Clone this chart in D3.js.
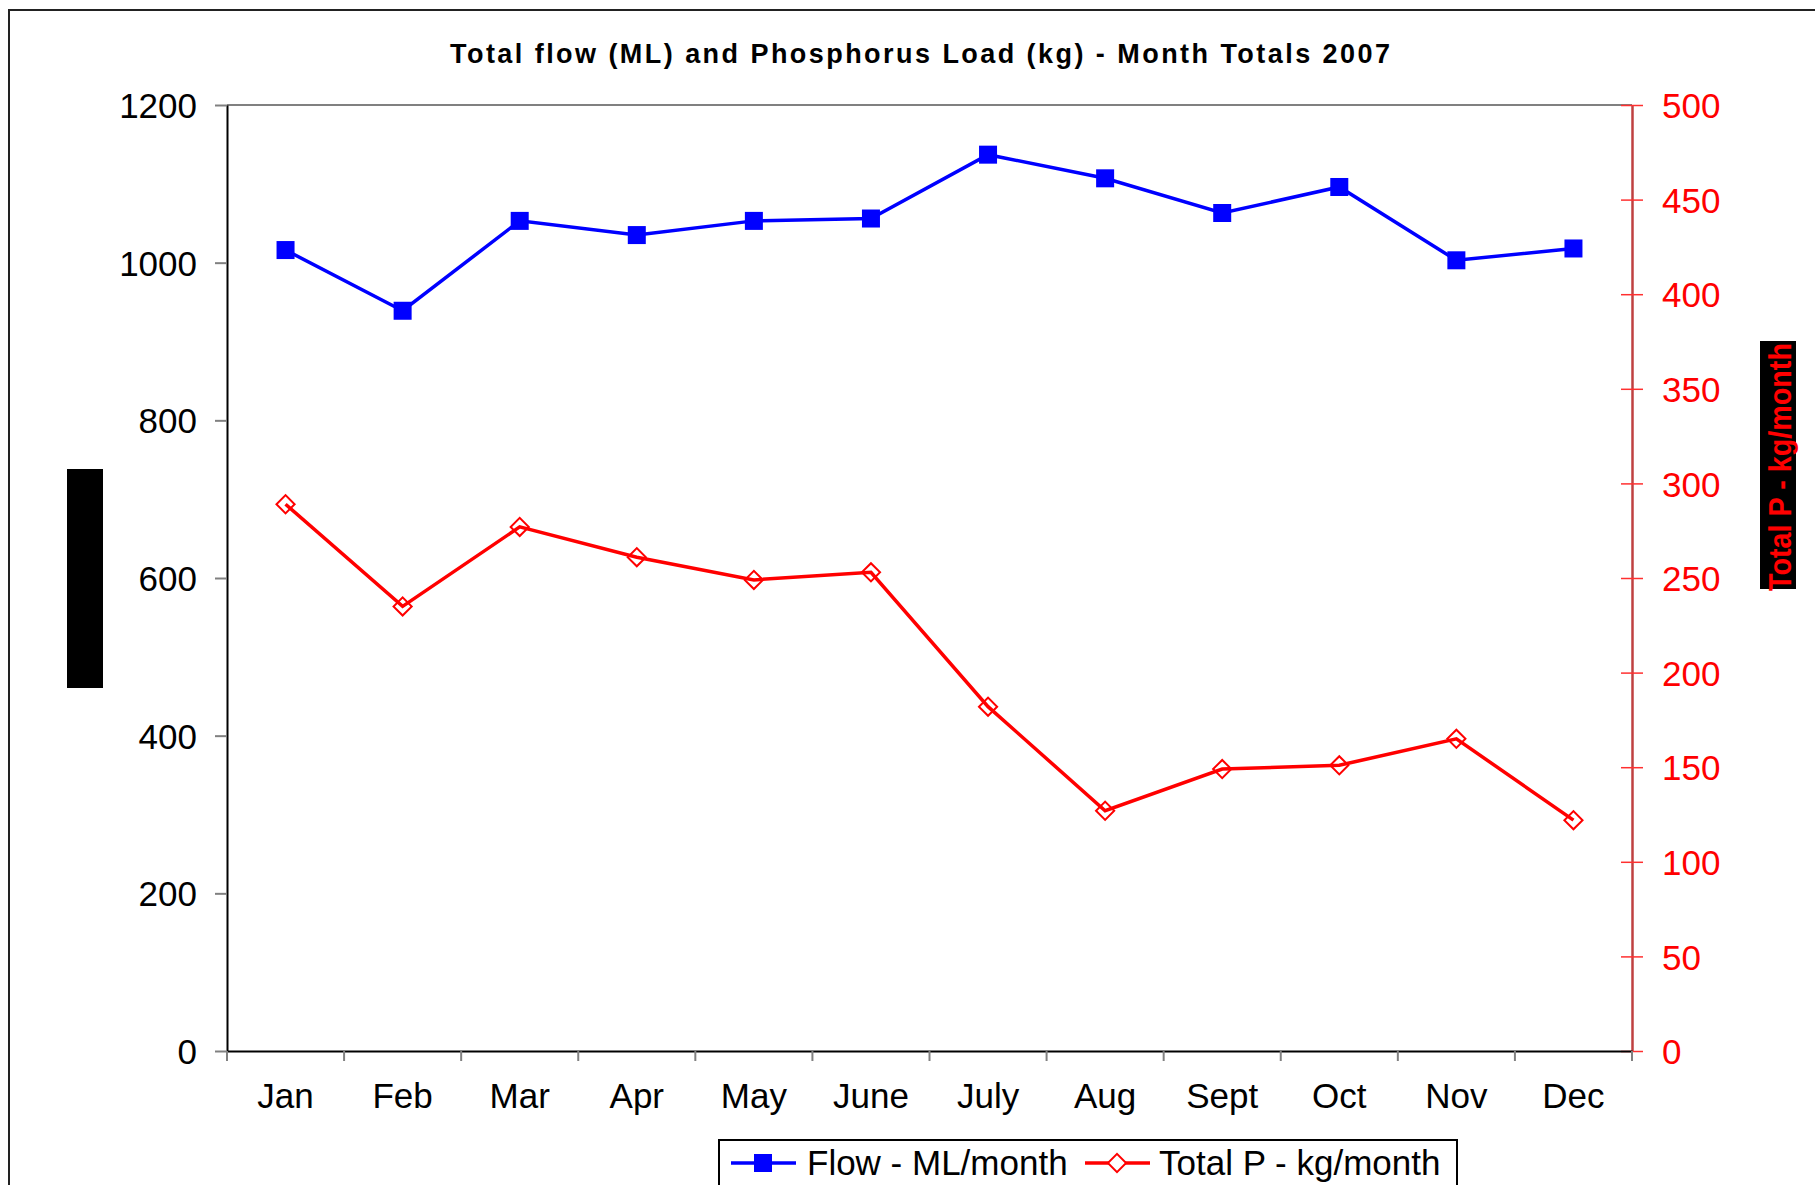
<!DOCTYPE html>
<html>
<head>
<meta charset="utf-8">
<script src="https://cdn.jsdelivr.net/npm/d3@7"></script>
<style>
  body { margin: 0; background: #fff; }
  svg { display: block; font-family: "Liberation Sans", Arial, sans-serif; }
</style>
</head>
<body>
<div id="chart"></div>
<script>
// chart data
const months = ["Jan", "Feb", "Mar", "Apr", "May", "June", "July", "Aug", "Sept", "Oct", "Nov", "Dec"];
const flow = [1016, 939, 1053, 1035, 1053, 1056, 1137, 1107, 1063, 1096, 1003, 1018];
const totalP = [289, 235, 277, 261, 249, 253, 182, 127, 149, 151, 165, 122];
const flowTicks = [0, 200, 400, 600, 800, 1000, 1200];
const pTicks = [0, 50, 100, 150, 200, 250, 300, 350, 400, 450, 500];

const width = 1815, height = 1185;
const plotLeft = 227, plotRight = 1632, plotTop = 105, plotBottom = 1051;

const svg = d3.select("#chart").append("svg")
    .attr("width", width)
    .attr("height", height);

// outer chart border
svg.append("rect")
    .attr("x", 9).attr("y", 10)
    .attr("width", 1900).attr("height", 1300)
    .attr("fill", "#fff")
    .attr("stroke", "#222")
    .attr("stroke-width", 2);

const x = d3.scaleBand().domain(months).range([plotLeft, plotRight]).padding(0);
const yFlow = d3.scaleLinear().domain([0, 1200]).range([plotBottom, plotTop]);
const yP = d3.scaleLinear().domain([0, 500]).range([plotBottom, plotTop]);

// title
svg.append("text")
    .attr("x", 920).attr("y", 63)
    .attr("text-anchor", "middle")
    .attr("textLength", 940)
    .attr("lengthAdjust", "spacing")
    .style("font-size", "27px")
    .style("font-weight", "bold")
    .text("Total flow (ML) and Phosphorus Load (kg) - Month Totals 2007");

// plot area top border
svg.append("line")
    .attr("x1", plotLeft).attr("x2", plotRight)
    .attr("y1", plotTop).attr("y2", plotTop)
    .attr("stroke", "#808080").attr("stroke-width", 2);

// left axis
const gLeft = svg.append("g")
    .attr("transform", `translate(${plotLeft},0)`)
    .call(d3.axisLeft(yFlow).tickValues(flowTicks).tickFormat(d3.format("d"))
        .tickSize(12).tickPadding(18).tickSizeOuter(0));
gLeft.select(".domain").attr("stroke", "#000").attr("stroke-width", 2);
gLeft.selectAll(".tick line").attr("stroke", "#808080").attr("stroke-width", 2);
gLeft.selectAll(".tick text")
    .style("font-size", "35px")
    .attr("fill", "#000")
    .attr("dy", "0.36em");

// right axis
const gRight = svg.append("g")
    .attr("transform", `translate(${plotRight},0)`)
    .call(d3.axisRight(yP).tickValues(pTicks).tickSize(11).tickPadding(19).tickSizeOuter(0));
gRight.select(".domain").attr("stroke", "#bf4040").attr("stroke-width", 2.5);
gRight.selectAll(".tick line")
    .attr("x1", -11)
    .attr("stroke", "#ff3030").attr("stroke-width", 1.5);
gRight.selectAll(".tick text")
    .style("font-size", "35px")
    .attr("fill", "#ff0000")
    .attr("dy", "0.36em");

// bottom axis: labels at band centres, ticks at band boundaries
const gBottom = svg.append("g")
    .attr("transform", `translate(0,${plotBottom})`)
    .call(d3.axisBottom(x).tickSize(0).tickPadding(32).tickSizeOuter(0));
gBottom.select(".domain").attr("stroke", "#000").attr("stroke-width", 2);
gBottom.selectAll(".tick text")
    .style("font-size", "35px")
    .attr("fill", "#000");

const boundaries = months.map(m => x(m)).concat([x(months[months.length - 1]) + x.bandwidth()]);
svg.append("g").selectAll("line")
    .data(boundaries)
    .enter().append("line")
    .attr("x1", d => d).attr("x2", d => d)
    .attr("y1", plotBottom).attr("y2", plotBottom + 10)
    .attr("stroke", "#808080").attr("stroke-width", 2);

const cx = m => x(m) + x.bandwidth() / 2;

// Flow series
const flowLine = d3.line().x((d, i) => cx(months[i])).y(d => yFlow(d));
svg.append("path")
    .datum(flow)
    .attr("d", flowLine)
    .attr("fill", "none")
    .attr("stroke", "#0000ff")
    .attr("stroke-width", 3.5);
svg.append("g").selectAll("rect")
    .data(flow)
    .enter().append("rect")
    .attr("x", (d, i) => cx(months[i]) - 9)
    .attr("y", d => yFlow(d) - 9)
    .attr("width", 18).attr("height", 18)
    .attr("fill", "#0000ff");

// Total P series
const pLine = d3.line().x((d, i) => cx(months[i])).y(d => yP(d));
svg.append("path")
    .datum(totalP)
    .attr("d", pLine)
    .attr("fill", "none")
    .attr("stroke", "#ff0000")
    .attr("stroke-width", 3.5);
const diamond = d3.symbol().type(d3.symbolSquare).size(165);
svg.append("g").selectAll("path")
    .data(totalP)
    .enter().append("path")
    .attr("d", diamond)
    .attr("transform", (d, i) => `translate(${cx(months[i])},${yP(d)}) rotate(45)`)
    .attr("fill", "none")
    .attr("stroke", "#ff0000")
    .attr("stroke-width", 2);

// left axis title (blacked out box)
svg.append("rect")
    .attr("x", 67).attr("y", 469)
    .attr("width", 36).attr("height", 219)
    .attr("fill", "#000");
svg.append("text")
    .attr("transform", "translate(96,578) rotate(-90)")
    .attr("text-anchor", "middle")
    .attr("fill", "#000")
    .style("font-size", "26px")
    .style("font-weight", "bold")
    .text("Flow - ML/month");

// right axis title
svg.append("rect")
    .attr("x", 1760).attr("y", 341)
    .attr("width", 36).attr("height", 248)
    .attr("fill", "#000");
svg.append("text")
    .attr("transform", "translate(1791,467) rotate(-90)")
    .attr("text-anchor", "middle")
    .attr("textLength", 248)
    .attr("lengthAdjust", "spacingAndGlyphs")
    .attr("fill", "#ff0000")
    .style("font-size", "31px")
    .style("font-weight", "bold")
    .text("Total P - kg/month");

// legend
const legend = svg.append("g");
legend.append("rect")
    .attr("x", 719).attr("y", 1140)
    .attr("width", 738).attr("height", 90)
    .attr("fill", "#fff")
    .attr("stroke", "#000").attr("stroke-width", 2);

const legendItems = [
    { label: "Flow - ML/month", color: "#0000ff", x0: 731, tx: 807, mark: "square" },
    { label: "Total P - kg/month", color: "#ff0000", x0: 1085, tx: 1159, mark: "diamond" }
];
const ly = 1163;
legendItems.forEach(d => {
    legend.append("line")
        .attr("x1", d.x0).attr("x2", d.x0 + 65)
        .attr("y1", ly).attr("y2", ly)
        .attr("stroke", d.color).attr("stroke-width", 3.5);
    if (d.mark === "square") {
        legend.append("rect")
            .attr("x", d.x0 + 32 - 9).attr("y", ly - 9)
            .attr("width", 18).attr("height", 18)
            .attr("fill", d.color);
    } else {
        legend.append("path")
            .attr("d", diamond)
            .attr("transform", `translate(${d.x0 + 32},${ly}) rotate(45)`)
            .attr("fill", "#fff")
            .attr("stroke", d.color).attr("stroke-width", 2);
    }
    legend.append("text")
        .attr("x", d.tx).attr("y", ly + 12)
        .style("font-size", "35px")
        .attr("fill", "#000")
        .text(d.label);
});
</script>
</body>
</html>
